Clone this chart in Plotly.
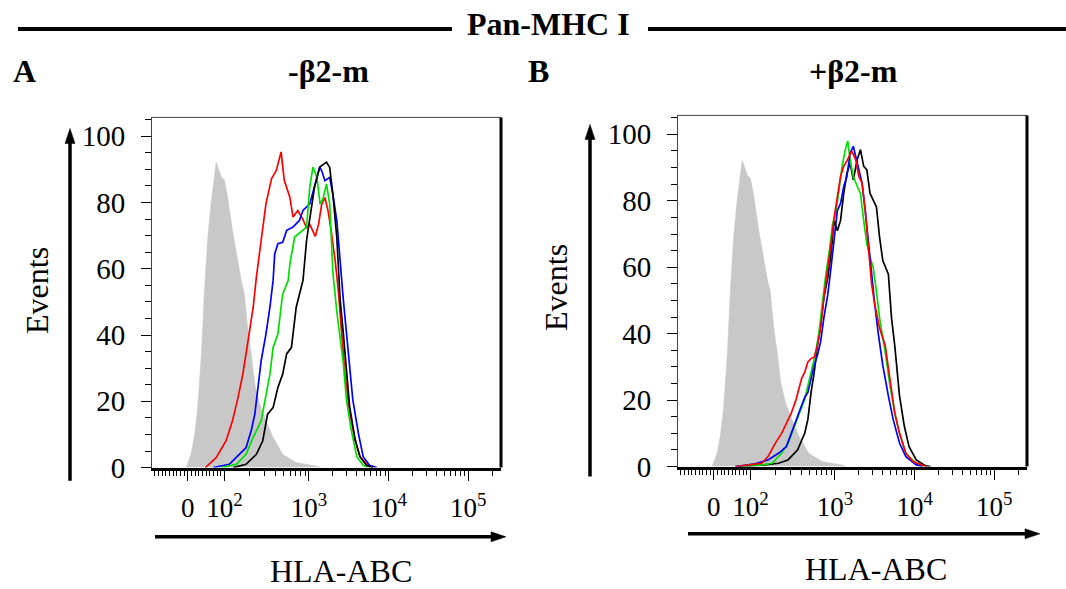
import math
import plotly.graph_objects as go

W, H = 1066, 589          # reference picture size (all positions below are given in it)
FIG_H = 607               # page height that the capture spans (it is shown scaled to 589)
FONT = "Liberation Serif"

# ---- axis labelling (display channel units of a biexponential axis) ----
tick_vals = [1.48, 1.94, 3, 4, 5]
tick_text = ["0", "10<sup>2</sup>", "10<sup>3</sup>", "10<sup>4</sup>", "10<sup>5</sup>"]
y_ticks = [0, 20, 40, 60, 80, 100]

# ---- isotype control (grey filled) ----
iso_x = [1.46, 1.52, 1.56, 1.60, 1.65, 1.69, 1.73, 1.77, 1.835, 1.90, 1.94, 1.98, 2.04, 2.11,
         2.15, 2.19, 2.23, 2.275, 2.32, 2.38, 2.46, 2.55, 2.67, 2.84, 3.09, 3.15]
iso_y = [0, 4.0, 9.1, 17.1, 34.3, 54.4, 69.5, 79.6, 92.2, 87.7, 86.7, 81.6, 71.6, 61.5,
         56.5, 52.4, 42.3, 34.3, 25.2, 19.2, 14.1, 9.1, 4.0, 1.5, 0.5, 0]

# ---- panel A (-b2-m) ----
a_red_x = [1.70, 1.835, 1.96, 2.04, 2.11, 2.17, 2.21, 2.25, 2.30, 2.34, 2.38, 2.42, 2.46, 2.53,
           2.59, 2.65, 2.69, 2.76, 2.80, 2.86, 2.93, 2.97, 3.01, 3.08, 3.12, 3.16, 3.20, 3.24,
           3.28, 3.33, 3.37, 3.41, 3.45, 3.51, 3.58, 3.64, 3.72, 3.80]
a_red_y = [0, 3, 8.1, 14.1, 21.2, 28.2, 34.3, 40.3, 48.4, 57.5, 64.5, 71.6, 79.6, 87.2,
           89.7, 95.3, 86.7, 81.6, 75.6, 77.6, 74.6, 72.4, 73.4, 69.8, 73.4, 79.5, 81.5, 77.4,
           71.3, 62.2, 53, 40.8, 28.7, 16.5, 8.3, 3.3, 1.2, 0]

a_blue_x = [1.80, 2.00, 2.21, 2.275, 2.32, 2.36, 2.40, 2.46, 2.51, 2.55, 2.57, 2.61, 2.67, 2.72,
            2.80, 2.88, 2.925, 3.01, 3.09, 3.135, 3.16, 3.20, 3.26, 3.30, 3.35, 3.39, 3.43,
            3.47, 3.51, 3.55, 3.62, 3.68, 3.76, 3.85]
a_blue_y = [0, 1.0, 6.0, 11.1, 16.1, 25.2, 32.3, 40.3, 48.4, 56.5, 64.5, 67.6, 68.0, 71.6,
            72.6, 74.6, 77.6, 79.6, 86.7, 90.7, 89.6, 86.6, 87.6, 82.5, 74.4, 62.2, 51,
            40.8, 31.7, 20.5, 10.4, 3.3, 0.7, 0]

a_green_x = [1.90, 2.09, 2.21, 2.30, 2.40, 2.46, 2.51, 2.55, 2.61, 2.65, 2.67, 2.74, 2.76, 2.82,
             2.925, 2.97, 3.01, 3.05, 3.10, 3.14, 3.18, 3.22, 3.26, 3.30, 3.35, 3.39, 3.43,
             3.47, 3.53, 3.60, 3.68, 3.76]
a_green_y = [0, 1.0, 4.0, 9.1, 14.1, 21.2, 28.2, 36.3, 40.3, 48.4, 52.4, 56.5, 61.5, 69.6,
             71.6, 72.6, 84.7, 90.7, 87.6, 79.5, 81.5, 85.6, 79.5, 59, 47, 38.8, 31.7,
             20.5, 11.4, 3.3, 0.7, 0]

a_black_x = [2.05, 2.21, 2.34, 2.42, 2.48, 2.55, 2.61, 2.67, 2.72, 2.78, 2.84, 2.88, 2.925, 2.97,
             3.01, 3.07, 3.135, 3.22, 3.26, 3.30, 3.35, 3.39, 3.43, 3.47, 3.51, 3.58, 3.64,
             3.72, 3.80]
a_black_y = [0, 1.0, 4.0, 8.1, 16.1, 18.1, 24.2, 28.2, 34.3, 36.3, 48.4, 52.4, 56.5, 68.6,
             74.6, 84.7, 90.7, 92.2, 90.6, 82.5, 69.3, 51, 40.8, 28.7, 18.5, 8.3, 3.3,
             0.7, 0]

# ---- panel B (+b2-m) ----
b_red_x = [1.75, 1.92, 2.08, 2.16, 2.25, 2.33, 2.39, 2.45, 2.51, 2.58, 2.62, 2.66, 2.70, 2.74,
           2.78, 2.82, 2.86, 2.91, 2.95, 2.99, 3.03, 3.07, 3.11, 3.15, 3.21, 3.26, 3.30, 3.34,
           3.38, 3.42, 3.46, 3.50, 3.56, 3.63, 3.69, 3.75, 3.81, 3.89, 3.98, 4.10, 4.14]
b_red_y = [0, 0.5, 1, 3, 7, 10, 13, 16, 20, 26.4, 28.4, 31.5, 32.5, 33,
           36.5, 41.6, 50.8, 59, 67, 75, 81, 87.3, 90.4, 92, 95, 92.4, 87.3, 85.3,
           77, 67, 54.8, 48.7, 41.6, 36.5, 26.4, 16.2, 10, 4, 1.5, 0.2, 0]

b_blue_x = [1.75, 2.00, 2.16, 2.29, 2.39, 2.45, 2.51, 2.58, 2.62, 2.66, 2.70, 2.74, 2.78, 2.82,
            2.86, 2.91, 2.95, 2.99, 3.03, 3.07, 3.11, 3.15, 3.19, 3.23, 3.26, 3.30, 3.34, 3.38,
            3.42, 3.46, 3.50, 3.54, 3.60, 3.67, 3.73, 3.81, 3.89, 4.02, 4.10]
b_blue_y = [0, 0.8, 2, 4, 6, 10, 14.2, 18.3, 20.8, 22.3, 26.4, 30.5, 33.5, 37.6,
            44.7, 51.8, 59.9, 69, 77, 79.2, 84.3, 87.3, 94.4, 96.4, 93.4, 89.3, 85.3, 77,
            67, 56.9, 48.7, 40.6, 30.5, 21.3, 14.2, 7.1, 3, 0.5, 0]

b_green_x = [1.79, 2.08, 2.21, 2.33, 2.41, 2.49, 2.56, 2.62, 2.68, 2.72, 2.76, 2.80, 2.84, 2.88,
             2.93, 2.97, 3.01, 3.05, 3.09, 3.13, 3.16, 3.19, 3.23, 3.28, 3.32, 3.36, 3.40, 3.44,
             3.48, 3.52, 3.56, 3.63, 3.69, 3.75, 3.81, 3.89, 4.02, 4.10]
b_green_y = [0, 0.5, 1, 4, 7, 12.2, 16.2, 20.3, 26.4, 30.5, 34.5, 40.6, 48.7, 56.9,
             65, 73, 76, 83.2, 90.4, 95.4, 98, 92.4, 87.3, 84.3, 82.2, 74.1, 67, 63,
             59.9, 52.8, 44.7, 34.5, 24.4, 16.2, 10, 4, 1, 0]

b_black_x = [1.79, 2.12, 2.29, 2.41, 2.53, 2.62, 2.66, 2.70, 2.74, 2.78, 2.82, 2.86, 2.91, 2.95,
             2.99, 3.03, 3.07, 3.11, 3.15, 3.19, 3.23, 3.28, 3.32, 3.36, 3.40, 3.44, 3.48, 3.52,
             3.56, 3.60, 3.67, 3.71, 3.75, 3.81, 3.87, 3.93, 4.02, 4.14, 4.20]
b_black_y = [0, 0.5, 1, 2, 5, 10, 14.2, 22.3, 28.4, 36.5, 42.6, 50.8, 56.9, 64,
             74.1, 71, 74.1, 82.2, 88.3, 91.4, 86.3, 92.4, 95.4, 90.4, 89.3, 82.2, 80.2, 78.2,
             69, 62, 57.9, 44.7, 36.5, 21.3, 12.2, 6, 2, 0.2, 0]

RED, BLUE, GREEN, BLACK, GREY = "#ff0000", "#0000ff", "#00e000", "#000000", "#c8c8c8"

fig = go.Figure()


def add_iso(xa, ya):
    fig.add_trace(go.Scatter(x=iso_x, y=iso_y, mode="lines", fill="tozeroy",
                             fillcolor=GREY, line=dict(color=GREY, width=0.5),
                             xaxis=xa, yaxis=ya, showlegend=False, hoverinfo="skip"))


def add_line(xs, ys, color, xa, ya):
    fig.add_trace(go.Scatter(x=xs, y=ys, mode="lines", line=dict(color=color, width=1.7),
                             xaxis=xa, yaxis=ya, showlegend=False, hoverinfo="skip"))


add_iso("x", "y")
add_line(a_red_x, a_red_y, RED, "x", "y")
add_line(a_blue_x, a_blue_y, BLUE, "x", "y")
add_line(a_green_x, a_green_y, GREEN, "x", "y")
add_line(a_black_x, a_black_y, BLACK, "x", "y")

add_iso("x2", "y2")
add_line(b_black_x, b_black_y, BLACK, "x2", "y2")
add_line(b_green_x, b_green_y, GREEN, "x2", "y2")
add_line(b_blue_x, b_blue_y, BLUE, "x2", "y2")
add_line(b_red_x, b_red_y, RED, "x2", "y2")

# minor tick positions on the biexponential axis
step = (tick_vals[1] - tick_vals[0]) / 10
minor_x = [tick_vals[0] - k * step for k in range(1, 10)] + [tick_vals[0] + k * step for k in range(1, 10)]
for k in range(2, 10):
    minor_x.append(tick_vals[1] + (3 - tick_vals[1]) * math.log10(k))
    minor_x.append(3 + math.log10(k))
    minor_x.append(4 + math.log10(k))
    minor_x.append(5 + math.log10(k))


def xcfg(domain, anchor):
    return dict(domain=domain, anchor=anchor, range=[1.03, 5.41], tickmode="array",
                tickvals=tick_vals, ticktext=tick_text, ticks="outside", ticklen=10,
                tickwidth=1, tickcolor="black", showline=True, linecolor="black", linewidth=3,
                showgrid=False, zeroline=False, ticklabelstandoff=4, fixedrange=True,
                tickfont=dict(family=FONT, size=27, color="black"),
                minor=dict(tickmode="array", tickvals=minor_x, ticks="outside", ticklen=5,
                           tickwidth=1, tickcolor="black", showgrid=False))


def ycfg(domain, anchor):
    return dict(domain=domain, anchor=anchor, range=[0, 105.7], tickmode="array",
                tickvals=y_ticks, ticks="outside", ticklen=10, tickwidth=1, tickcolor="black",
                showline=True, linecolor="#444444", linewidth=1, showgrid=False, zeroline=False,
                ticklabelstandoff=10, fixedrange=True,
                tickfont=dict(family=FONT, size=29, color="black"),
                minor=dict(tickmode="linear", tick0=0, dtick=5, ticks="outside", ticklen=6,
                           tickwidth=1, tickcolor="black", showgrid=False))


def px(x):
    return x / W


def py(y):
    return 1 - y / H


fig.update_layout(
    width=W, height=FIG_H, margin=dict(l=0, r=0, t=0, b=0, pad=0),
    paper_bgcolor="white", plot_bgcolor="white", hovermode=False,
    xaxis=xcfg([px(152), px(501)], "y"),
    yaxis=ycfg([py(466), py(117)], "x"),
    xaxis2=xcfg([px(678), px(1027)], "y2"),
    yaxis2=ycfg([py(465), py(115)], "x2"),
)

shapes = []
# top / right frame of each panel
for xr, yr in (("x domain", "y domain"), ("x2 domain", "y2 domain")):
    shapes.append(dict(type="line", xref=xr, yref=yr, x0=0, x1=1, y0=1, y1=1,
                       line=dict(color="#444444", width=1)))
    shapes.append(dict(type="line", xref=xr, yref=yr, x0=1, x1=1, y0=0, y1=1,
                       line=dict(color="black", width=3)))

# header rules
shapes.append(dict(type="line", xref="paper", yref="paper", x0=px(18), x1=px(452), y0=py(29), y1=py(29),
                   line=dict(color="black", width=4)))
shapes.append(dict(type="line", xref="paper", yref="paper", x0=px(648), x1=px(1066), y0=py(29), y1=py(29),
                   line=dict(color="black", width=4)))


def v_arrow(x, y_top, y_bot):
    shapes.append(dict(type="line", xref="paper", yref="paper", x0=px(x), x1=px(x),
                       y0=py(y_bot), y1=py(y_top + 10), line=dict(color="black", width=3.5)))
    path = "M {},{} L {},{} L {},{} Z".format(px(x), py(y_top), px(x - 5), py(y_top + 15),
                                              px(x + 5), py(y_top + 15))
    shapes.append(dict(type="path", xref="paper", yref="paper", path=path,
                       fillcolor="black", line=dict(color="black", width=0.5)))


def h_arrow(x_left, x_right, y):
    shapes.append(dict(type="line", xref="paper", yref="paper", x0=px(x_left), x1=px(x_right - 10),
                       y0=py(y), y1=py(y), line=dict(color="black", width=3.5)))
    path = "M {},{} L {},{} L {},{} Z".format(px(x_right), py(y), px(x_right - 15), py(y - 5),
                                              px(x_right - 15), py(y + 5))
    shapes.append(dict(type="path", xref="paper", yref="paper", path=path,
                       fillcolor="black", line=dict(color="black", width=0.5)))


v_arrow(70, 128, 479)
v_arrow(590, 124, 475)
h_arrow(155, 506, 535)
h_arrow(688, 1040, 532)

fig.update_layout(shapes=shapes)


def txt(text, x, y, size=32, bold=False, angle=0):
    t = "<b>" + text + "</b>" if bold else text
    fig.add_annotation(text=t, x=px(x), y=py(y), xref="paper", yref="paper", showarrow=False,
                       xanchor="center", yanchor="middle", textangle=angle,
                       font=dict(family=FONT, size=size, color="black"))


txt("Pan-MHC I", 548, 24, bold=True)
txt("A", 24, 71, bold=True)
txt("-β2-m", 328, 71, bold=True)
txt("B", 538, 71, bold=True)
txt("+β2-m", 853, 71, bold=True)
txt("Events", 37, 290, angle=-90)
txt("Events", 556, 287, angle=-90)
txt("HLA-ABC", 341, 569)
txt("HLA-ABC", 876, 567)

# pin the figure to the window's top-left corner
page_js = (
    "document.documentElement.style.margin='0';"
    "document.body.style.margin='0';"
    "var gd=document.getElementsByClassName('plotly-graph-div')[0];"
    "gd.style.position='fixed';gd.style.left='0px';gd.style.top='0px';"
)
fig.write_html("out.html", config={"displayModeBar": False}, post_script=page_js)
